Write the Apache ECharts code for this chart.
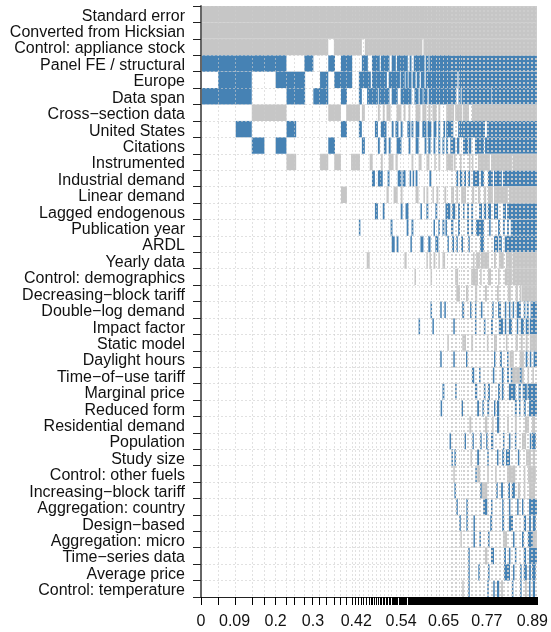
<!DOCTYPE html>
<html>
<head>
<meta charset="utf-8">
<script src="https://cdn.jsdelivr.net/npm/echarts@6/dist/echarts.min.js"></script>
<style>
  html, body { margin: 0; padding: 0; background: #fff; }
  #chartWrapper { width: 551px; height: 632px; }
</style>
</head>
<body>
<div id="chartWrapper"></div>
<script>
// variable names, top row first
const rowLabels = [
	"Standard error", "Converted from Hicksian", "Control: appliance stock", "Panel FE / structural",
	"Europe", "Data span", "Cross−section data", "United States", "Citations", "Instrumented",
	"Industrial demand", "Linear demand", "Lagged endogenous", "Publication year", "ARDL", "Yearly data",
	"Control: demographics", "Decreasing−block tariff", "Double−log demand", "Impact factor", "Static model",
	"Daylight hours", "Time−of−use tariff", "Marginal price", "Reduced form", "Residential demand",
	"Population", "Study size", "Control: other fuels", "Increasing−block tariff", "Aggregation: country",
	"Design−based", "Aggregation: micro", "Time−series data", "Average price", "Control: temperature",
];

// cumulative posterior model probability at each model edge
const modelEdges = [
	0, .046, .092, .137, .170, .200, .228, .251, .277, .298, .318, .336, .356, .373, .388, .404, .414, .421, .429, .436,
	.444, .450, .455, .460, .465, .470, .475, .479, .484, .488, .492, .496, .500, .504, .508, .512, .515, .518, .521, .524,
	.527, .530, .533, .536, .539, .542, .545, .548, .551, .554, .557, .560, .563, .566, .569, .572, .574, .576, .578, .580,
	.582, .584, .586, .588, .590, .592, .594, .596, .598, .600, .602, .604, .606, .608, .610, .612, .614, .616, .618, .620,
	.622, .624, .626, .628, .630, .632, .634, .636, .638, .640, .642, .644, .646, .648, .650, .652, .654, .656, .658, .660,
	.662, .664, .666, .668, .670, .672, .674, .676, .678, .680, .682, .684, .686, .688, .690, .692, .694, .696, .698, .700,
	.702, .704, .706, .708, .710, .712, .714, .716, .718, .720, .722, .724, .726, .728, .730, .732, .734, .736, .738, .740,
	.742, .744, .746, .748, .750, .752, .754, .756, .758, .760, .762, .764, .766, .768, .770, .772, .774, .776, .778, .780,
	.782, .784, .786, .788, .790, .792, .794, .796, .798, .800, .802, .804, .806, .808, .810, .812, .814, .816, .818, .820,
	.822, .824, .826, .828, .830, .832, .834, .836, .838, .840, .842, .844, .846, .848, .850, .852, .854, .856, .858, .860,
	.862, .864, .866, .868, .870, .872, .874, .876, .878, .880, .882, .884, .886, .888, .890, .892, .894, .896, .898, .9,
];
// dotted guide lines: faint on the left, thinned and doubled where the model edges crowd together
const guideEdgesLeft = [
	.046, .092, .137, .170, .200, .228, .251, .277, .298, .318, .336, .356, .373, .388, .404, .414, .425, .436, .447, .458,
	.469, .479, .490, .501, .511, .522, .533, .543, .554, .565, .575, .586, .597,
];
const guideEdgesRight = [
	.607, .618, .629, .639, .650, .661, .671,
	.674, .682, .685, .693, .696, .703, .706, .714, .717, .725, .728, .735, .738, .746, .749, .757, .760, .767, .770, .778, .781,
	.789, .792, .799, .802, .810, .813, .821, .824, .831, .834, .842, .845, .853, .856, .863, .866, .874, .877, .885, .888, .895, .898,
];
const axisLabelValues = [0, .09, .2, .3, .416, .536, .65, .766, .888];

// [from, to] in cumulative probability; pos = positive coefficient, neg = negative
const standardError = { pos: [], neg: [[0, .9]] };
const convertedHicksian = { pos: [], neg: [[0, .9]] };
const applianceStock = { pos: [], neg: [[0, .341], [.356, .431], [.439, .593], [.596, .9]] };
const panelFE = { pos: [[0, .229], [.277, .301], [.341, .359], [.375, .405], [.431, .447], [.458, .479], [.482, .505], [.511, .522], [.525, .554], [.559, .564], [.570, .599], [.602, .610], [.612, .9]], neg: [] };
const europe = { pos: [[.046, .136], [.2, .279], [.319, .341], [.357, .405], [.423, .455], [.458, .498], [.503, .533], [.535, .546], [.548, .554], [.556, .564], [.567, .575], [.578, .586], [.589, .599], [.602, .687], [.690, .9]], neg: [] };
const dataSpan = { pos: [[0, .136], [.229, .279], [.301, .341], [.375, .391], [.423, .431], [.445, .474], [.476, .505], [.511, .527], [.535, .564], [.572, .583], [.586, .594], [.596, .607], [.610, .684], [.690, .696], [.698, .777], [.778, .9]], neg: [] };
const crossSection = { pos: [], neg: [[.136, .229], [.341, .375], [.389, .426], [.431, .439], [.474, .479], [.487, .492], [.497, .508], [.524, .537], [.543, .548], [.556, .561], [.575, .588], [.593, .604], [.609, .615], [.620, .631], [.636, .641], [.657, .678], [.681, .700], [.702, .718], [.726, .9]] };
const unitedStates = { pos: [[.093, .136], [.229, .255], [.375, .391], [.423, .431], [.466, .474], [.482, .497], [.511, .516], [.521, .529], [.535, .540], [.553, .561], [.564, .569], [.575, .585], [.593, .604], [.607, .617], [.623, .631], [.636, .641], [.649, .654], [.657, .676], [.689, .761], [.766, .9]], neg: [] };
const citations = { pos: [[.136, .170], [.2, .229], [.341, .359], [.431, .439], [.474, .479], [.490, .497], [.503, .508], [.524, .537], [.556, .561], [.575, .583], [.599, .604], [.609, .615], [.623, .628], [.636, .641], [.647, .652], [.657, .662], [.668, .681], [.686, .692], [.702, .716], [.718, .724], [.734, .758], [.761, .9]], neg: [] };
const instrumented = { pos: [], neg: [[.229, .255], [.319, .341], [.357, .375], [.402, .426], [.452, .460], [.482, .487], [.503, .516], [.521, .527], [.564, .569], [.583, .591], [.604, .612], [.625, .628], [.636, .641], [.657, .676], [.678, .681], [.694, .697], [.718, .721], [.726, .729], [.742, .774], [.777, .833], [.835, .9]] };
const industrial = { pos: [[.458, .466], [.474, .487], [.500, .505], [.527, .537], [.540, .548], [.559, .561], [.567, .569], [.575, .580], [.612, .617], [.684, .689], [.694, .700], [.705, .710], [.716, .721], [.729, .745], [.750, .758], [.769, .782], [.785, .806], [.809, .9]], neg: [] };
const linear = { pos: [], neg: [[.375, .391], [.497, .503], [.516, .527], [.535, .540], [.575, .583], [.596, .599], [.604, .609], [.620, .623], [.631, .636], [.652, .657], [.670, .678], [.684, .689], [.697, .710], [.726, .732], [.742, .748], [.758, .764], [.769, .782], [.785, .822], [.825, .9]] };
const lagged = { pos: [[.466, .474], [.487, .492], [.535, .540], [.548, .556], [.588, .591], [.604, .609], [.628, .633], [.655, .668], [.673, .681], [.689, .694], [.702, .705], [.713, .718], [.724, .729], [.745, .753], [.758, .764], [.769, .777], [.785, .796], [.809, .817], [.820, .9]], neg: [] };
const publicationYear = { pos: [[.423, .426], [.508, .513], [.551, .556], [.564, .569], [.623, .625], [.636, .639], [.647, .652], [.655, .657], [.670, .676], [.689, .694], [.713, .718], [.724, .729], [.737, .758], [.772, .774], [.796, .801], [.809, .814], [.820, .825], [.830, .9]], neg: [] };
const ardl = { pos: [[.511, .519], [.524, .529], [.561, .564], [.588, .596], [.609, .615], [.628, .636], [.660, .662], [.673, .678], [.684, .686], [.697, .702], [.716, .718], [.748, .758], [.785, .796], [.798, .806], [.814, .9]], neg: [] };
const yearlyData = { pos: [], neg: [[.444, .452], [.545, .551], [.604, .607], [.612, .615], [.623, .628], [.636, .639], [.647, .654], [.729, .732], [.737, .748], [.750, .772], [.785, .790], [.798, .811], [.817, .833], [.835, .9]] };
const demographics = { pos: [], neg: [[.572, .575], [.615, .617], [.681, .689], [.724, .742], [.748, .750], [.769, .777], [.796, .798], [.814, .833], [.835, .9]] };
const decreasingBlock = { pos: [], neg: [[.684, .694], [.710, .716], [.734, .740], [.761, .766], [.793, .798], [.822, .830], [.843, .849], [.854, .857], [.859, .9]] };
const doubleLog = { pos: [[.615, .617], [.641, .644], [.652, .655], [.700, .705], [.721, .724], [.734, .737], [.750, .753], [.780, .782], [.796, .804], [.814, .817], [.825, .827], [.835, .838], [.846, .857], [.865, .867], [.873, .878], [.883, .9]], neg: [] };
const impactFactor = { pos: [[.583, .585], [.620, .623], [.676, .678], [.734, .737], [.758, .761], [.777, .782], [.798, .809], [.814, .817], [.825, .833], [.846, .849], [.857, .865], [.870, .878], [.881, .9]], neg: [] };
const staticModel = { pos: [], neg: [[.660, .662], [.700, .710], [.724, .729], [.766, .769], [.785, .793], [.817, .820], [.843, .849], [.857, .862], [.870, .875], [.881, .9]] };
const daylight = { pos: [[.641, .644], [.676, .678], [.710, .713], [.785, .788], [.801, .806], [.820, .822], [.870, .875], [.881, .883], [.891, .9]], neg: [[.827, .838], [.854, .865]] };
const timeOfUse = { pos: [[.726, .732], [.745, .748], [.782, .785], [.806, .811], [.820, .825], [.830, .833], [.854, .859]], neg: [[.833, .854], [.859, .865], [.875, .878], [.888, .891]] };
const marginalPrice = { pos: [[.647, .652], [.681, .684], [.734, .740], [.758, .761], [.769, .774], [.796, .801], [.806, .811], [.825, .843], [.851, .857], [.862, .873], [.875, .9]], neg: [] };
const reducedForm = { pos: [[.642, .644], [.698, .700], [.740, .745], [.754, .756], [.767, .772], [.785, .788], [.793, .799], [.841, .846], [.852, .855], [.865, .870], [.879, .9]], neg: [] };
const residential = { pos: [[.793, .799]], neg: [[.719, .724], [.761, .767], [.780, .783], [.820, .825], [.841, .846], [.868, .879], [.887, .895]] };
const population = { pos: [[.666, .668], [.706, .708], [.727, .729], [.748, .751], [.764, .767], [.777, .783], [.809, .812], [.825, .828], [.841, .844], [.881, .884], [.887, .897]], neg: [[.860, .871]] };
const studySize = { pos: [[.671, .674], [.679, .682], [.740, .745], [.767, .769], [.793, .796], [.807, .812], [.817, .828], [.849, .852]], neg: [[.722, .724], [.871, .884], [.889, .895]] };
const otherFuels = { pos: [[.735, .737]], neg: [[.676, .679], [.740, .748], [.767, .769], [.788, .791], [.820, .842], [.865, .868], [.876, .897]] };
const increasingBlock = { pos: [[.679, .682], [.748, .751], [.791, .793], [.804, .809], [.823, .828], [.833, .841]], neg: [[.751, .767], [.849, .855], [.865, .868], [.879, .895]] };
const aggCountry = { pos: [[.684, .687], [.711, .714], [.756, .767], [.777, .780], [.807, .809], [.825, .828], [.847, .849], [.860, .863], [.879, .9]], neg: [] };
const designBased = { pos: [[.692, .695], [.711, .714], [.730, .732], [.775, .780], [.807, .812], [.825, .836], [.865, .871], [.879, .884], [.889, .897]], neg: [] };
const aggMicro = { pos: [[.730, .732], [.746, .748], [.769, .772], [.836, .839], [.860, .865], [.876, .889]], neg: [[.695, .698], [.809, .820], [.889, .9]] };
const timeSeries = { pos: [[.716, .719], [.777, .785], [.812, .817], [.825, .828], [.841, .844], [.865, .871], [.879, .9]], neg: [[.761, .767]] };
const averagePrice = { pos: [[.716, .719], [.743, .745], [.769, .772], [.812, .828], [.836, .839], [.855, .857], [.865, .873], [.879, .884], [.887, .897]], neg: [] };
const temperature = { pos: [[.716, .719], [.767, .769], [.783, .785], [.793, .799], [.833, .836], [.855, .857], [.879, .881], [.889, .895]], neg: [[.700, .703], [.804, .809], [.868, .873]] };

const allRows = [
	standardError, convertedHicksian, applianceStock, panelFE, europe, dataSpan, crossSection, unitedStates,
	citations, instrumented, industrial, linear, lagged, publicationYear, ardl, yearlyData, demographics,
	decreasingBlock, doubleLog, impactFactor, staticModel, daylight, timeOfUse, marginalPrice, reducedForm,
	residential, population, studySize, otherFuels, increasingBlock, aggCountry, designBased, aggMicro,
	timeSeries, averagePrice, temperature,
];

const POS_COLOR = "#4682b4";
const NEG_COLOR = "#c6c6c6";
const GRID_FAINT = "rgba(205,205,205,0.6)";
const GRID_STRONG = "rgba(205,205,205,0.9)";
const LABEL_FONT = "'Liberation Sans', Arial, sans-serif";

// turn the runs into [from, to, row, sign] for the custom series
function buildCells() {
	let cells = [];
	allRows.forEach((row, rowIndex) => {
		row.neg.forEach((run) => cells.push([run[0], run[1], rowIndex, -1]));
		row.pos.forEach((run) => cells.push([run[0], run[1], rowIndex, 1]));
	});
	return cells;
}

function renderCell(params, api) {
	const start = api.coord([api.value(0), api.value(2)]);
	const end = api.coord([api.value(1), api.value(2)]);
	const bandHeight = api.size([0, 1])[1];
	return {
		type: "rect",
		shape: {
			x: start[0],
			y: start[1] - bandHeight / 2,
			width: Math.max(end[0] - start[0], 1.5), // 細條至少要看得到
			height: bandHeight,
		},
		style: { fill: api.value(3) > 0 ? POS_COLOR : NEG_COLOR },
	};
}

// hidden x axis whose only job is a set of dotted vertical guides
function guideAxis(edges, color) {
	return {
		type: "value",
		position: "top",
		min: 0,
		max: 0.9,
		z: 5,
		axisLine: { show: false },
		axisTick: { show: false, customValues: edges },
		axisLabel: { show: false },
		splitLine: { show: true, lineStyle: { color: color, width: 1, type: [2, 2] } },
	};
}

const myChart = echarts.init(document.getElementById("chartWrapper"), null, { renderer: "canvas" });
let option = {
	animation: false,
	backgroundColor: "#fff",
	grid: { left: 201, top: 6, right: 12, bottom: 35 },
	xAxis: [
		{
			type: "value",
			min: 0,
			max: 0.9,
			z: 6,
			axisLine: { show: true, onZero: false, lineStyle: { color: "#222", width: 1 } },
			axisTick: { show: true, length: 8, customValues: modelEdges, lineStyle: { color: "#000", width: 1 } },
			axisLabel: {
				customValues: axisLabelValues,
				formatter: (value) => String(+value.toFixed(2)),
				margin: 17,
				fontSize: 16,
				fontFamily: LABEL_FONT,
				color: "#111",
			},
			splitLine: { show: false },
		},
		guideAxis(guideEdgesLeft, GRID_FAINT),
		guideAxis(guideEdgesRight, GRID_STRONG),
	],
	yAxis: {
		type: "category",
		inverse: true,
		data: rowLabels,
		z: 5,
		axisLine: { show: true, onZero: false, lineStyle: { color: "#666", width: 2 } },
		axisTick: { show: true, length: 8, lineStyle: { color: "#222", width: 1 } },
		axisLabel: {
			interval: 0,
			margin: 16,
			formatter: (value) => `{row|${value}}`,
			rich: {
				row: {
					fontSize: 16,
					fontFamily: LABEL_FONT,
					color: "#111",
					padding: [4, 0, 0, 0], // 文字比列中心略低
				},
			},
		},
		splitLine: { show: true, interval: 0, lineStyle: { color: GRID_FAINT, width: 1, type: [2, 2] } },
	},
	series: [
		{
			type: "custom",
			z: 1,
			silent: true,
			renderItem: renderCell,
			encode: { x: [0, 1], y: 2 },
			data: buildCells(),
		},
	],
};
myChart.setOption(option);
</script>
</body>
</html>
